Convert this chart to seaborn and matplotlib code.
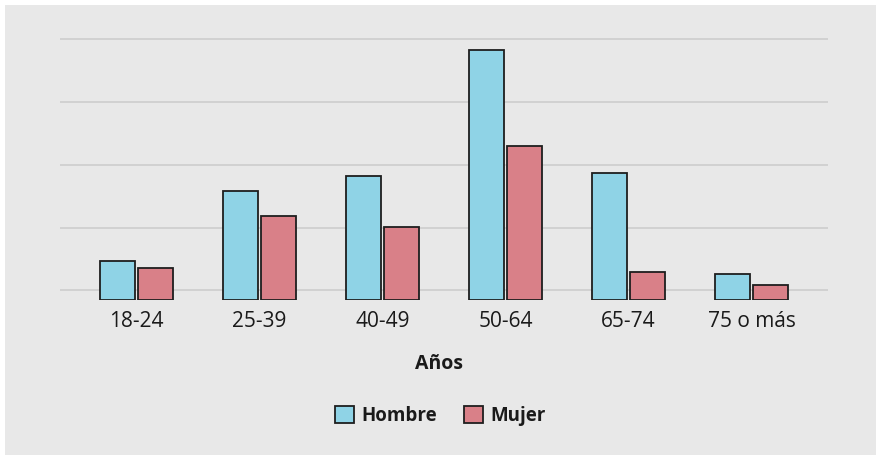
import pandas as pd
import matplotlib.pyplot as plt
import seaborn as sns
from matplotlib.patches import Rectangle

# Valores (unidades arbitrarias, 10 = distancia entre líneas)
grupos = ['18-24', '25-39', '40-49', '50-64', '65-74', '75 o más']
hombre = [6.2, 17.4, 19.8, 39.8, 20.3, 4.2]
mujer = [5.2, 13.4, 11.7, 24.6, 4.6, 2.4]
series = ['Hombre', 'Mujer']
colores = ['#8fd3e6', '#d98088']
rejilla = [1.6, 11.6, 21.6, 31.6, 41.6]

df = pd.DataFrame({
    'Años': grupos * 2,
    'valor': hombre + mujer,
    'sexo': [series[0]] * len(grupos) + [series[1]] * len(grupos),
})

sns.set_style('white')
plt.rcParams['font.family'] = ['Open Sans', 'DejaVu Sans']

fig = plt.figure(figsize=(8.76, 4.55), dpi=100)
fig.patch.set_facecolor('#e8e8e8')
# franjas blancas arriba y a la izquierda
fig.patches.append(Rectangle((0, 1 - 5 / 455), 1, 5 / 455, transform=fig.transFigure,
                             facecolor='white', edgecolor='none', zorder=-10))
fig.patches.append(Rectangle((0, 0), 5 / 876, 1, transform=fig.transFigure,
                             facecolor='white', edgecolor='none', zorder=-10))

ax = fig.add_axes([0.0685, 0.3396, 0.8767, 0.5945])
ax.set_facecolor('none')
sns.barplot(data=df, x='Años', y='valor', hue='sexo', palette=colores, saturation=1,
            width=0.62, gap=0.1, edgecolor='#1e1e1e', linewidth=1.3,
            errorbar=None, ax=ax, zorder=3)

# rejilla horizontal, sin ejes visibles
ax.set_yticks(rejilla)
ax.set_yticklabels([])
ax.yaxis.grid(True, color='#cacaca', linewidth=1.1)
ax.set_axisbelow(True)
ax.set_ylim(0, 43)
ax.set_xlim(-0.622, len(grupos) - 1 + 0.622)
for s in ax.spines.values():
    s.set_visible(False)
ax.tick_params(axis='y', length=0)
ax.tick_params(axis='x', length=0, pad=7.5, labelsize=15, labelcolor='#1a1a1a')
ax.set_xlabel('')
ax.set_ylabel('')

fig.text(439 / 876, 1 - 364 / 455, 'Años', ha='center', va='center',
         fontsize=14, fontweight='bold', color='#1a1a1a')

handles, labels = ax.get_legend_handles_labels()
ax.get_legend().remove()
fig.legend(handles, labels, loc='center', bbox_to_anchor=(440 / 876, 1 - 416 / 455),
           ncol=2, frameon=False, prop={'weight': 'bold', 'size': 13.5},
           handlelength=1.05, handleheight=0.95, handletextpad=0.35, columnspacing=1.45,
           labelcolor='#1a1a1a')

fig.savefig('out.png', dpi=100, facecolor=fig.get_facecolor())
plt.close(fig)
